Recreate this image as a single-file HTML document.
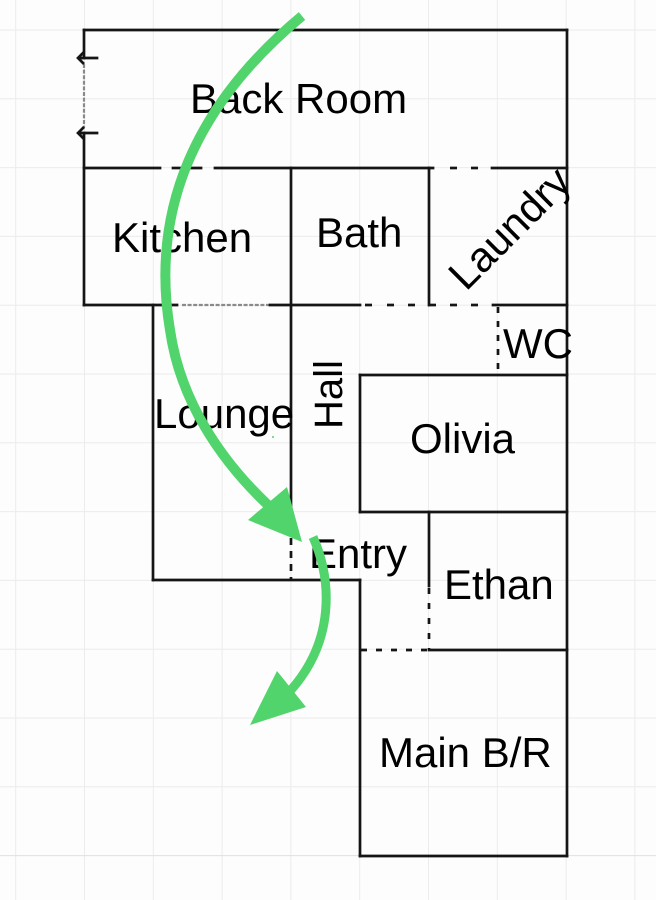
<!DOCTYPE html>
<html><head><meta charset="utf-8"><style>
html,body{margin:0;padding:0;background:#fdfdfd;}
svg{display:block;}
text{font-family:"Liberation Sans",Arial,sans-serif;font-size:42px;fill:#000;}
</style></head><body>
<svg width="656" height="900" viewBox="0 0 656 900" xmlns="http://www.w3.org/2000/svg">
<rect width="656" height="900" fill="#fdfdfd"/>
<g stroke="#ececec" stroke-width="1">
<line x1="15.7" y1="0" x2="15.7" y2="900"/><line x1="84.5" y1="0" x2="84.5" y2="900"/>
<line x1="153.3" y1="0" x2="153.3" y2="900"/><line x1="222.1" y1="0" x2="222.1" y2="900"/>
<line x1="290.9" y1="0" x2="290.9" y2="900"/><line x1="359.7" y1="0" x2="359.7" y2="900"/>
<line x1="428.5" y1="0" x2="428.5" y2="900"/><line x1="497.3" y1="0" x2="497.3" y2="900"/>
<line x1="566.1" y1="0" x2="566.1" y2="900"/><line x1="634.9" y1="0" x2="634.9" y2="900"/>
<line x1="0" y1="30" x2="656" y2="30"/><line x1="0" y1="98.8" x2="656" y2="98.8"/>
<line x1="0" y1="167.6" x2="656" y2="167.6"/><line x1="0" y1="236.4" x2="656" y2="236.4"/>
<line x1="0" y1="305.2" x2="656" y2="305.2"/><line x1="0" y1="374" x2="656" y2="374"/>
<line x1="0" y1="442.8" x2="656" y2="442.8"/><line x1="0" y1="511.6" x2="656" y2="511.6"/>
<line x1="0" y1="580.4" x2="656" y2="580.4"/><line x1="0" y1="649.2" x2="656" y2="649.2"/>
<line x1="0" y1="718" x2="656" y2="718"/><line x1="0" y1="786.8" x2="656" y2="786.8"/>
<line x1="0" y1="855.6" x2="656" y2="855.6" stroke="#e0e0e0"/>
</g>
<!-- gray dotted openings -->
<g stroke="#8a8a8a" stroke-width="2.2" stroke-dasharray="4 1.6">
<line x1="84" y1="64" x2="84" y2="128"/>
<line x1="182" y1="305" x2="270" y2="305"/>
</g>
<g stroke="#151515" stroke-width="2.7" fill="none" stroke-linecap="square">
<line x1="84" y1="30" x2="567" y2="30"/>
<line x1="567" y1="30" x2="567" y2="856"/>
<line x1="84" y1="30" x2="84" y2="58"/>
<line x1="84" y1="133" x2="84" y2="305"/>
<line x1="79" y1="58" x2="97" y2="58"/>
<polyline points="84,52 78,58 84,64" stroke-linecap="butt"/>
<line x1="79" y1="133" x2="97" y2="133"/>
<polyline points="84,127 78,133 84,139" stroke-linecap="butt"/>
<!-- y=168 -->
<line x1="84" y1="168" x2="160" y2="168"/>
<line x1="173" y1="168" x2="181" y2="168"/>
<line x1="187" y1="168" x2="201" y2="168"/>
<line x1="215" y1="168" x2="433" y2="168"/>
<line x1="450" y1="168" x2="457" y2="168" stroke-linecap="butt"/>
<line x1="471" y1="168" x2="478" y2="168" stroke-linecap="butt"/>
<line x1="492" y1="168" x2="567" y2="168"/>
<line x1="291" y1="168" x2="291" y2="512"/>
<line x1="429" y1="168" x2="429" y2="305"/>
<!-- y=305 -->
<line x1="84" y1="305" x2="177" y2="305"/>
<line x1="270" y1="305" x2="360" y2="305"/>
<g stroke-linecap="butt">
<line x1="365" y1="305" x2="372" y2="305"/>
<line x1="387" y1="305" x2="394" y2="305"/>
<line x1="408" y1="305" x2="415" y2="305"/>
<line x1="428" y1="305" x2="436" y2="305"/>
<line x1="450" y1="305" x2="457" y2="305"/>
<line x1="471" y1="305" x2="478" y2="305"/>
</g>
<line x1="493" y1="305" x2="567" y2="305"/>
<line x1="153" y1="305" x2="153" y2="580"/>
<!-- WC dashed -->
<line x1="498" y1="307" x2="498" y2="375" stroke-dasharray="6 8" stroke-linecap="butt"/>
<!-- Olivia -->
<line x1="360" y1="375" x2="567" y2="375"/>
<line x1="360" y1="375" x2="360" y2="512"/>
<line x1="360" y1="512" x2="567" y2="512"/>
<!-- Hall dashed into entry -->
<line x1="291" y1="538" x2="291" y2="580" stroke-dasharray="7 6" stroke-linecap="butt"/>
<line x1="153" y1="580" x2="360" y2="580"/>
<line x1="360" y1="580" x2="360" y2="856"/>
<line x1="360" y1="856" x2="567" y2="856"/>
<!-- Ethan -->
<line x1="429" y1="512" x2="429" y2="586"/>
<line x1="429" y1="588" x2="429" y2="650" stroke-dasharray="6 9" stroke-linecap="butt"/>
<line x1="361" y1="650" x2="429" y2="650" stroke-dasharray="6 9" stroke-linecap="butt"/>
<line x1="429" y1="650" x2="567" y2="650"/>
</g>
<!-- labels -->
<text x="190" y="113">Back Room</text>
<text x="112" y="252">Kitchen</text>
<text x="316" y="247">Bath</text>
<text x="0" y="0" transform="translate(466,292) rotate(-45)">Laundry</text>
<text x="503" y="358">WC</text>
<text x="154" y="428">Lounge</text>
<text x="0" y="0" style="font-size:40px" transform="translate(342,429) rotate(-90)">Hall</text>
<text x="410" y="453">Olivia</text>
<text x="309" y="568">Entry</text>
<text x="444" y="599">Ethan</text>
<text x="379" y="767">Main B/R</text>
<!-- green arrows -->
<g fill="none" stroke="#51d46b" stroke-linecap="butt">
<path d="M302,16 C195,105 150,210 170,330 C180,400 220,460 269,506" stroke-width="10"/>
<path d="M313,537 C332,580 335,640 291,690" stroke-width="9"/>
</g>
<g fill="#51d46b">
<polygon points="248,520 287,487 302,542"/>
<polygon points="277,671 306,707 250,725"/>
<circle cx="273" cy="437" r="1"/>
</g>
</svg>
</body></html>
